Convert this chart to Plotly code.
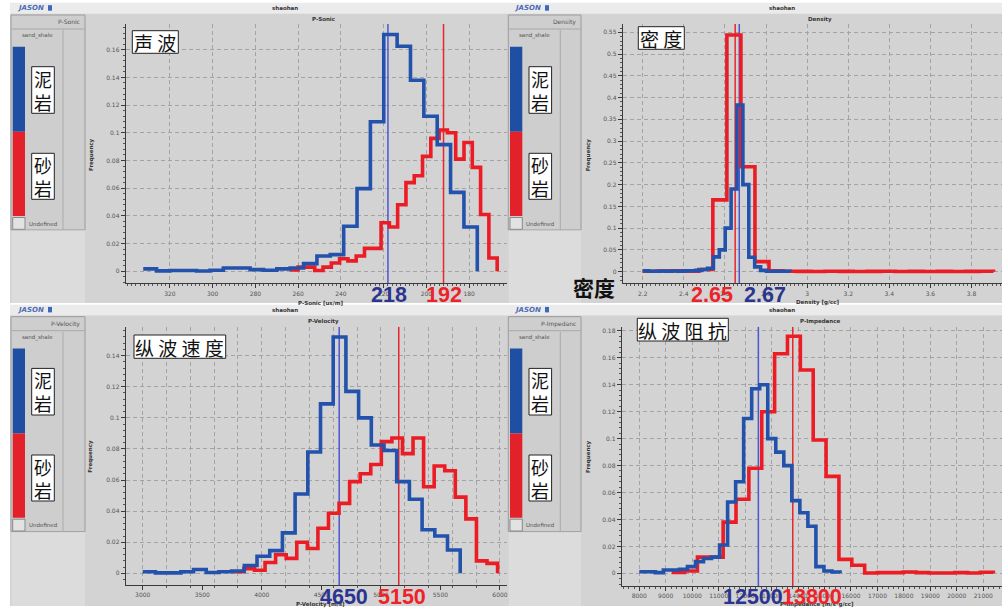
import numpy as np
import plotly.graph_objects as go

# ---------------------------------------------------------------
# Histogram data: 25 equal-width bins per lithology (frequency per bin)
# bins given as [first edge, last edge]
# ---------------------------------------------------------------
lithologies = ["泥岩", "砂岩"]  # shale, sand

# P-Sonic [us/m]
sonic_shale_bins = [332.5, 176.2]
sonic_shale_freq = [0.0017, 0.0003, 0.0005, 0.0005, 0.0002, 0.0007, 0.0024, 0.0024, 0.0012,
                    0.0007, 0.0017, 0.0024, 0.0055, 0.011, 0.012, 0.0325, 0.0597, 0.108,
                    0.171, 0.1625, 0.138, 0.112, 0.0915, 0.057, 0.032]
sonic_sand_bins = [263.9, 166.9]
sonic_sand_freq = [0.001, 0.003, 0.003, 0.0005, 0.003, 0.006, 0.009, 0.0075, 0.011, 0.0165,
                   0.0165, 0.035, 0.032, 0.048, 0.064, 0.069, 0.083, 0.096, 0.102, 0.1,
                   0.081, 0.093, 0.075, 0.041, 0.0096]
sonic_means = [218, 192]
sonic_xticks = [320, 300, 280, 260, 240, 220, 200, 180, 160]
sonic_yticks = [0, 0.02, 0.04, 0.06, 0.08, 0.1, 0.12, 0.14, 0.16]

# Density [g/cc]
dens_shale_bins = [2.2, 2.917]
dens_shale_freq = [0.002, 0.001, 0.001, 0.0015, 0.001, 0.0015, 0.001, 0.002, 0.002, 0.003,
                   0.005, 0.008, 0.034, 0.05, 0.1, 0.19, 0.383, 0.2, 0.033, 0.011, 0.003,
                   0.001, 0.001, 0.001, 0.001]
dens_sand_bins = [2.2, 3.907]
dens_sand_freq = [0.001, 0.0015, 0.002, 0.001, 0.005, 0.165, 0.544, 0.241, 0.023, 0.002,
                  0.001, 0.0008, 0.0005, 0.001, 0.0008, 0.0005, 0.0008, 0.001, 0.0005,
                  0.0008, 0.0005, 0.0008, 0.0005, 0.0008, 0.001]
dens_means = [2.67, 2.65]
dens_xticks = [2.2, 2.4, 2.6, 2.8, 3.0, 3.2, 3.4, 3.6, 3.8]
dens_yticks = [0, 0.05, 0.1, 0.15, 0.2, 0.25, 0.3, 0.35, 0.4, 0.45, 0.5, 0.55]

# P-Velocity [m/s]
vp_shale_bins = [3000, 5666]
vp_shale_freq = [0.001, 0.0003, 0.0003, 0.001, 0.0025, 0.0005, 0.001, 0.0015, 0.005, 0.011,
                 0.0146, 0.026, 0.051, 0.078, 0.109, 0.152, 0.117, 0.1, 0.0825, 0.079,
                 0.059, 0.0476, 0.028, 0.024, 0.015]
vp_sand_bins = [3761, 5980]
vp_sand_freq = [0.001, 0.003, 0.002, 0.007, 0.012, 0.0096, 0.02, 0.016, 0.029, 0.0386,
                0.045, 0.059, 0.064, 0.07, 0.0847, 0.087, 0.077, 0.087, 0.0557, 0.069,
                0.066, 0.049, 0.035, 0.008, 0.0064]
vp_means = [4650, 5150]
vp_xticks = [3000, 3500, 4000, 4500, 5000, 5500, 6000]
vp_yticks = [0, 0.02, 0.04, 0.06, 0.08, 0.1, 0.12, 0.14]

# P-Impedance [m/s*g/cc]
imp_shale_bins = [8000, 15585]
imp_shale_freq = [0.0012, 0.0012, 0.0005, 0.0025, 0.0025, 0.003, 0.005, 0.0087, 0.011,
                  0.012, 0.021, 0.053, 0.068, 0.115, 0.137, 0.14, 0.1, 0.09, 0.08, 0.054,
                  0.045, 0.035, 0.005, 0.0017, 0.001]
imp_sand_bins = [9224, 21379]
imp_sand_freq = [0.0007, 0.0017, 0.012, 0.012, 0.038, 0.055, 0.078, 0.12, 0.163, 0.176,
                 0.151, 0.099, 0.072, 0.0104, 0.006, 0.0003, 0.0005, 0.0005, 0.001, 0.0005,
                 0.0003, 0.0003, 0.0005, 0.0003, 0.0008]
imp_means = [12500, 13800]
imp_xticks = [8000, 9000, 10000, 11000, 12000, 13000, 14000, 15000, 16000, 17000, 18000,
              19000, 20000, 21000]
imp_yticks = [0, 0.02, 0.04, 0.06, 0.08, 0.1, 0.12, 0.14, 0.16, 0.18]

# ---------------------------------------------------------------
W, H = 1002, 609
BLUE = "#2252ab"
RED = "#ec1c24"
NAVY = "#2b3590"
LBL_RED = "#ee2229"
NUM_FONT = "Liberation Sans, Arial, sans-serif"
CJK = "Noto Sans CJK SC"

fig = go.Figure()


def fx(x):
    return x / W


def fy(y):
    return 1 - y / H


shapes, anns = [], []


def rect(x0, y0, x1, y1, fill, line=None, lw=1, layer="below"):
    shapes.append(dict(type="rect", xref="paper", yref="paper",
                       x0=fx(x0), x1=fx(x1), y0=fy(y1), y1=fy(y0),
                       fillcolor=fill, layer=layer,
                       line=dict(color=line if line else fill, width=lw if line else 0)))


def seg(x0, y0, x1, y1, color, width=1, layer="below"):
    shapes.append(dict(type="line", xref="paper", yref="paper",
                       x0=fx(x0), x1=fx(x1), y0=fy(y0), y1=fy(y1), layer=layer,
                       line=dict(color=color, width=width)))


def label(x, y, s, size=6, color="#444", xanchor="center", family="DejaVu Sans",
          weight="normal", angle=0):
    anns.append(dict(x=fx(x), y=fy(y), xref="paper", yref="paper", text=s,
                     showarrow=False, xanchor=xanchor, yanchor="middle", textangle=angle,
                     font=dict(size=size, color=color, family=family, weight=weight)))


def edges(bins, n):
    return np.linspace(bins[0], bins[1], n + 1)


panels = [
    dict(box="声 波", box_xy=(132.3, 30.7, 178.3, 53.3), legend="P-Sonic", title="P-Sonic",
         xtitle="P-Sonic [us/m]",
         shale=(sonic_shale_bins, sonic_shale_freq), sand=(sonic_sand_bins, sonic_sand_freq),
         means=sonic_means, xticks=sonic_xticks, yticks=sonic_yticks,
         xd=(125.7, 507), yd=(24, 283.3), xr=[340.7, 162.3], yr=[-0.0087, 0.1786],
         xminor=2, xgrid=None, yminor=0.004, shifts=(1.5, 0), fmt=lambda v: f"{v:g}"),
    dict(box="密 度", box_xy=(638.3, 26.7, 684.3, 49.3), legend="Density", title="Density",
         xtitle="Density [g/cc]",
         shale=(dens_shale_bins, dens_shale_freq), sand=(dens_sand_bins, dens_sand_freq),
         means=dens_means, xticks=dens_xticks, yticks=dens_yticks,
         xd=(622.7, 1002), yd=(24, 283.3), xr=[2.1027, 3.9484], yr=[-0.0267, 0.5692],
         xminor=0.02, xgrid=None, yminor=0.01, shifts=(-23, 26)[::-1],
         fmt=lambda v: f"{v:.2f}"),
    dict(box="纵 波 速 度", box_xy=(134, 335, 225.7, 358.3), legend="P-Velocity",
         title="P-Velocity", xtitle="P-Velocity [m/s]",
         shale=(vp_shale_bins, vp_shale_freq), sand=(vp_sand_bins, vp_sand_freq),
         means=vp_means, xticks=vp_xticks, yticks=vp_yticks,
         xd=(125.7, 507), yd=(326.7, 585), xr=[2857, 6059], yr=[-0.0075, 0.1586],
         xminor=50, xgrid=200, yminor=0.004, shifts=(5, 3), fmt=lambda v: f"{v:g}"),
    dict(box="纵 波 阻 抗", box_xy=(637.3, 318.3, 728.3, 341), legend="P-Impedanc",
         title="P-Impedance", xtitle="P-Impedance [m/s*g/cc]",
         shale=(imp_shale_bins, imp_shale_freq), sand=(imp_sand_bins, imp_sand_freq),
         means=imp_means, xticks=imp_xticks, yticks=imp_yticks,
         xd=(621.7, 1002), yd=(326.7, 586), xr=[7335, 21707], yr=[-0.0094, 0.1831],
         xminor=200, xgrid=None, yminor=0.004, shifts=(-5, 19), fmt=lambda v: f"{v:g}"),
]

# window offsets (dx, dy), horizontal extent and bottom edge
windows = [(0, 0, 10, 507, 303), (497.3, 0, 507, 1002, 303),
           (0, 301.7, 10, 507, 606), (497.3, 301.7, 507, 1002, 606)]

# ---------------- window chrome ----------------
for (dx, dy, wx0, wx1, bottom), p in zip(windows, panels):
    top = 2.7 + dy
    rect(wx0, top, wx1, top + 10.8, "#ebebeb")
    rect(wx0, top + 10.8, wx1, bottom, "#d3d3d3")
    # JASON logo and window title
    label(wx0 + 5, top + 5.3, "<i>JASON</i>", size=7, color="#4c6cb8",
          xanchor="left", weight="bold")
    rect(wx0 + 38, top + 2.5, wx0 + 42, top + 8, "#3f66b8")
    label(dx + 285, top + 5.6, "shaohan", size=5.5, color="#333", weight="bold")
    # legend panel
    lx0 = 11 + dx
    lx1 = 85 + dx if dx == 0 else 581
    rect(lx0, 15 + dy, lx1, 230 + dy, "#cecece", line="#9c9c9c")
    rect(lx0 + 0.5, 230.5 + dy, lx1, bottom, "#dcdcdc")
    seg(lx0, 29 + dy, lx1, 29 + dy, "#a8a8a8")
    seg(63 + dx, 30 + dy, 63 + dx, 230 + dy, "#ababab")
    label(lx1 - 3, 22 + dy, p["legend"], size=6, color="#555", xanchor="right")
    label(20 + dx, 35.5 + dy, "sand_shale", size=5.5, color="#555", xanchor="left")
    rect(12.7 + dx, 46.7 + dy, 25 + dx, 131.7 + dy, "#1f4fa3")
    rect(12.7 + dx, 131.7 + dy, 25 + dx, 216 + dy, "#e3212b")
    rect(12.7 + dx, 217.5 + dy, 25 + dx, 229.3 + dy, "#e2e2e2", line="#8a8a8a")
    label(26.5 + dx, 223.5 + dy, "Undefined", size=5.5, color="#555", xanchor="left")
    # lithology tags
    for (ty0, ty1), name in zip([(66.7, 113.3), (153.3, 199.3)], lithologies):
        rect(31.7 + dx, ty0 + dy, 54.3 + dx, ty1 + dy, "white", line="#222", layer="above")
        label(43 + dx, (ty0 + ty1) / 2 + dy, "<br>".join(name), size=18, color="#111",
              family=CJK)
    # property tag in the plot area
    bx0, by0, bx1, by1 = p["box_xy"]
    rect(bx0, by0, bx1, by1, "white", line="#222", layer="above")
    label((bx0 + bx1) / 2, (by0 + by1) / 2 + 0.5, p["box"], size=19, color="#111", family=CJK)
    # plot/axis titles
    label(323 + dx, 19.3 + dy, p["title"], size=5.5, color="#333", weight="bold")
    label(91 + dx, 155 + dy, "Frequency", size=5.5, color="#333", weight="bold", angle=-90)
    label(320 + dx, 302.5 + dy, p["xtitle"], size=5.5, color="#333", weight="bold")

# thin white separator between the two rows
rect(0, 303, W, 304.4, "white")

# ---------------- axes, histograms, mean markers ----------------
layout_axes = {}
for i, p in enumerate(panels, start=1):
    xa = "x" if i == 1 else f"x{i}"
    ya = "y" if i == 1 else f"y{i}"
    common = dict(showline=True, linecolor="#3a3a3a", linewidth=1, ticks="outside",
                  ticklen=4, tickcolor="#3a3a3a", tickwidth=1, zeroline=False,
                  tickfont=dict(size=6, color="#555", family="DejaVu Sans"),
                  showgrid=True, gridcolor="#a3a3a3", griddash="4px,3px", gridwidth=1,
                  autorange=False, fixedrange=True, tickmode="array")
    if p["xgrid"]:
        xminor = dict(tick0=p["xticks"][0], dtick=p["xgrid"], ticks="outside", ticklen=2,
                      tickcolor="#555", showgrid=True, gridcolor="#a3a3a3",
                      griddash="4px,3px", gridwidth=1)
        xgrid = False
    else:
        xminor = dict(tick0=p["xticks"][0], dtick=p["xminor"], ticks="outside", ticklen=2,
                      tickcolor="#555", showgrid=False)
        xgrid = True
    layout_axes["xaxis" if i == 1 else f"xaxis{i}"] = dict(
        common, domain=[fx(p["xd"][0]), fx(p["xd"][1])], range=p["xr"], anchor=ya,
        tickvals=p["xticks"], tickformat="d" if i in (3, 4) else "", showgrid=xgrid,
        minor=xminor)
    layout_axes["yaxis" if i == 1 else f"yaxis{i}"] = dict(
        common, domain=[fy(p["yd"][1]), fy(p["yd"][0])], range=p["yr"], anchor=xa,
        tickvals=p["yticks"],
        minor=dict(tick0=0, dtick=p["yminor"], ticks="outside", ticklen=2,
                   tickcolor="#555", showgrid=False))

    # mean markers: shale (blue) and sand (red)
    for v, color in zip(p["means"], ["#4a58d0", "#e8262c"]):
        fig.add_trace(go.Scatter(x=[v, v], y=p["yr"], mode="lines",
                                 line=dict(color=color, width=1.5),
                                 xaxis=xa, yaxis=ya, hoverinfo="skip", showlegend=False))

    # sand first, shale drawn on top
    for (bins, freq), color in [(p["sand"], RED), (p["shale"], BLUE)]:
        fig.add_trace(go.Scatter(x=edges(bins, len(freq)), y=list(freq) + [0], mode="lines",
                                 line=dict(shape="hv", color=color, width=3.6),
                                 xaxis=xa, yaxis=ya, hoverinfo="skip", showlegend=False))

    ylab = 295.2 if i <= 2 else 596.5
    for v, color, sh in zip(p["means"], [NAVY, LBL_RED], p["shifts"]):
        anns.append(dict(x=v, xref=xa, xshift=sh, y=fy(ylab), yref="paper",
                         text=p["fmt"](v), showarrow=False, xanchor="center",
                         yanchor="middle",
                         font=dict(family=NUM_FONT, size=21.5, color=color, weight="bold")))

label(594, 286.5, "密度", size=21, color="#111", family=CJK, weight="bold")

fig.update_layout(
    width=W, height=H, margin=dict(l=0, r=0, t=0, b=0), autosize=False,
    paper_bgcolor="white", plot_bgcolor="rgba(0,0,0,0)",
    showlegend=False, shapes=shapes, annotations=anns, **layout_axes,
)

fig.write_html("out.html")
